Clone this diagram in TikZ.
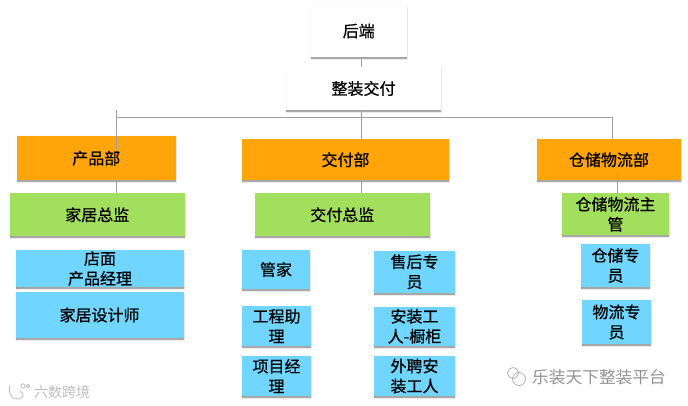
\documentclass[tikz,border=0pt]{standalone}
\usepackage{fontspec}
\setmainfont{Noto Sans CJK SC}[FakeBold=0.7]
\newfontfamily\markfont{Noto Sans CJK SC}
\usetikzlibrary{calc}
\definecolor{orangeC}{HTML}{FFA50A}
\definecolor{greenC}{HTML}{A2DF5C}
\definecolor{blueC}{HTML}{70D6FF}
\definecolor{lineC}{HTML}{A0A0A0}
\definecolor{markC}{HTML}{BDBDBD}
\tikzset{
  orgbox/.style={inner sep=0pt,font=\fontsize{16}{20}\selectfont,align=center,text=black,
    preaction={draw=black,draw opacity=0.02,line width=2.4pt},
    preaction={draw=black,fill=black,draw opacity=0.08,fill opacity=0.08,line width=0.8pt,transform canvas={xshift=0.4pt,yshift=-2pt}},
    preaction={fill=black,fill opacity=0.28,transform canvas={xshift=0.4pt,yshift=-1.8pt}}},
  whitebox/.style={orgbox,fill=white},
  orangebox/.style={orgbox,fill=orangeC},
  greenbox/.style={orgbox,fill=greenC},
  bluebox/.style={orgbox,fill=blueC},
  conn/.style={draw=lineC,line width=0.9pt},
  wmark/.style={text=markC,inner sep=0pt},
  wmarkline/.style={draw=markC,line width=0.8pt}
}
% name, style, x1, y1, x2, y2, text
\newcommand{\bx}[7]{%
  \pgfmathsetlengthmacro{\bw}{#5-#3}\pgfmathsetlengthmacro{\bh}{#6-#4}%
  \node[#2,minimum width=\bw,minimum height=\bh] (#1) at ({(#3+#5)/2},{(#4+#6)/2}) {#7};}
\begin{document}
\begin{tikzpicture}[x=1pt,y=-1pt]
\useasboundingbox (0,0) rectangle (688,406);
\bx{hd}{whitebox}{311}{5}{406.5}{57}{后端}
\bx{zz}{whitebox}{286}{67}{441}{110}{整装交付}
\bx{cp}{orangebox}{16.5}{136.5}{176}{180}{产品部}
\bx{jf}{orangebox}{242}{139.5}{449}{180}{交付部}
\bx{cc}{orangebox}{537}{139.5}{681}{180}{仓储物流部}
\bx{jj}{greenbox}{9.5}{193.5}{185}{236}{家居总监}
\bx{jz}{greenbox}{254.5}{193.5}{430}{236}{交付总监}
\bx{cz}{greenbox}{562}{193.5}{669}{235}{仓储物流主\\管}
\bx{dm}{bluebox}{16}{250}{184}{287}{店面\\产品经理}
\bx{sj}{bluebox}{15.5}{292}{183.5}{338}{家居设计师}
\bx{gj}{bluebox}{242}{250}{310}{289}{管家}
\bx{gc}{bluebox}{242}{306}{311}{346}{工程助\\理}
\bx{xm}{bluebox}{242}{356}{311}{396}{项目经\\理}
\bx{sh}{bluebox}{374}{250.5}{455}{293}{售后专\\员}
\bx{az}{bluebox}{374}{306.5}{455}{346}{安装工\\人-橱柜}
\bx{wp}{bluebox}{374}{356}{455}{396}{外聘安\\装工人}
\bx{cy}{bluebox}{581}{244}{650}{287}{仓储专\\员}
\bx{wl}{bluebox}{582}{300}{651}{344}{物流专\\员}
% connector guides
\coordinate (busL) at (116.5,117.5);
\coordinate (busM) at (361,117.5);
\coordinate (busR) at (612,117.5);
\coordinate (cpIn) at (116.5,150);
\coordinate (ccX) at (617,174);
\draw[conn] (hd.south -| busM) -- (zz.north -| busM);
\draw[conn] (zz.south -| busM) -- (busM);
\draw[conn] (busL) -- (busR);
\draw[conn] (zz.south -| busL) -- (cpIn);
\draw[conn] (busM) -- (jf.north -| busM);
\draw[conn] (busR) -- (cc.north -| busR);
\draw[conn] (cp.south -| busL) -- (jj.north -| busL);
\draw[conn] (jf.south -| busM) -- (jz.north -| busM);
\draw[conn] (ccX) -- (cz.north -| ccX);
% watermarks
\node[wmark,font=\markfont\fontsize{14}{16}\selectfont,anchor=west] (wm1) at (34,392) {六数跨境};
\node[wmark,font=\markfont\fontsize{16.7}{18}\selectfont,text=gray!85,anchor=west] (wm2) at (532,377) {乐装天下整装平台};
\draw[wmarkline] (10,385) .. controls (8,392) and (10,399) .. (18,399) .. controls (24,399) and (25,393) .. (20,391);
\draw[wmarkline] (23,386) circle (2.2);
\draw[wmarkline] (28,386) circle (1.8);
\draw[wmarkline,gray!60] (513,373) circle (5.5);
\draw[wmarkline,gray!60] (519,379) circle (6.5);
\end{tikzpicture}
\end{document}
